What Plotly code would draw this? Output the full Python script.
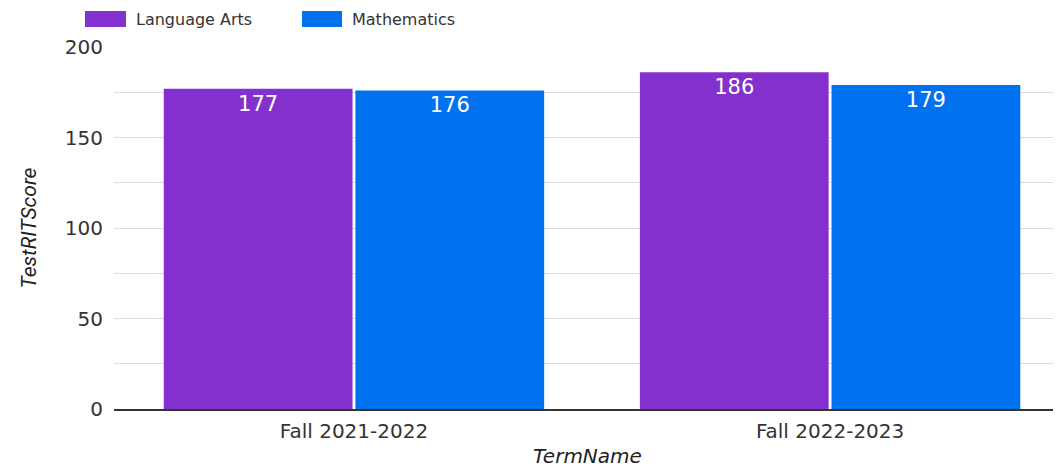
import plotly.graph_objects as go

terms = ["Fall 2021-2022", "Fall 2022-2023"]
series_names = ["Language Arts", "Mathematics"]
language_arts = [177, 186]
mathematics = [176, 179]
series_values = [language_arts, mathematics]
colors = ["#8430ce", "#0072f0"]
y_ticks = [0, 50, 100, 150, 200]

OFF = 8  # page body margin
W, H = 1061 - OFF, 471 - OFF
ML, MR, MT, MB = 114 - OFF, 0, 47 - OFF, 62
PW, PH = W - ML - MR, H - MT - MB

def px_to_paper_x(px):
    return (px - OFF - ML) / PW

def px_to_paper_y(py):
    return (H - MB - (py - OFF)) / PH

fig = go.Figure()
for name, vals, col in zip(series_names, series_values, colors):
    fig.add_trace(go.Bar(
        x=terms, y=vals, name=name, marker=dict(color=col, line=dict(width=0)),
        text=[str(v) for v in vals], textposition="inside", insidetextanchor="end",
        textangle=0,
        textfont=dict(color="white", size=21, family="DejaVu Sans"),
        showlegend=False,
    ))

# legend drawn as boxes + labels
legend_boxes = [(85, 126), (302, 342)]
for (x0, x1), name, col in zip(legend_boxes, series_names, colors):
    fig.add_shape(type="rect", xref="paper", yref="paper",
                  x0=px_to_paper_x(x0), x1=px_to_paper_x(x1),
                  y0=px_to_paper_y(27), y1=px_to_paper_y(11),
                  fillcolor=col, line=dict(width=0))
    fig.add_annotation(xref="paper", yref="paper", x=px_to_paper_x(x1 + 9), y=px_to_paper_y(19.5),
                       text=name, showarrow=False, xanchor="left", yanchor="middle", borderpad=0,
                       font=dict(family="DejaVu Sans", size=16, color="#333333"))

fig.update_layout(
    width=W, height=H,
    margin=dict(l=ML, r=MR, t=MT, b=MB, pad=0),
    barmode="group", bargap=0.195, bargroupgap=0.015,
    plot_bgcolor="white", paper_bgcolor="white",
    font=dict(family="DejaVu Sans", color="#333333"),
    xaxis=dict(range=[-0.504, 1.485], showgrid=False, showline=True, linecolor="#333333",
               linewidth=1.5, ticks="", tickfont=dict(size=20, color="#333333"), ticklabelstandoff=3,
               title=dict(text="<i>TermName</i>", font=dict(size=20, color="#222222"), standoff=7)),
    yaxis=dict(range=[0, 200], tickvals=y_ticks, ticktext=[str(t) for t in y_ticks],
               showgrid=True, gridcolor="#dcdcdc", gridwidth=1, zeroline=False,
               minor=dict(dtick=25, showgrid=True, gridcolor="#dcdcdc", gridwidth=1),
               tickfont=dict(size=20, color="#333333"), ticklabelstandoff=10,
               title=dict(text="<i>TestRITScore</i>", font=dict(size=21, family="Roboto", color="#222222"),
                          standoff=22)),
)

fig.write_html("out.html")
